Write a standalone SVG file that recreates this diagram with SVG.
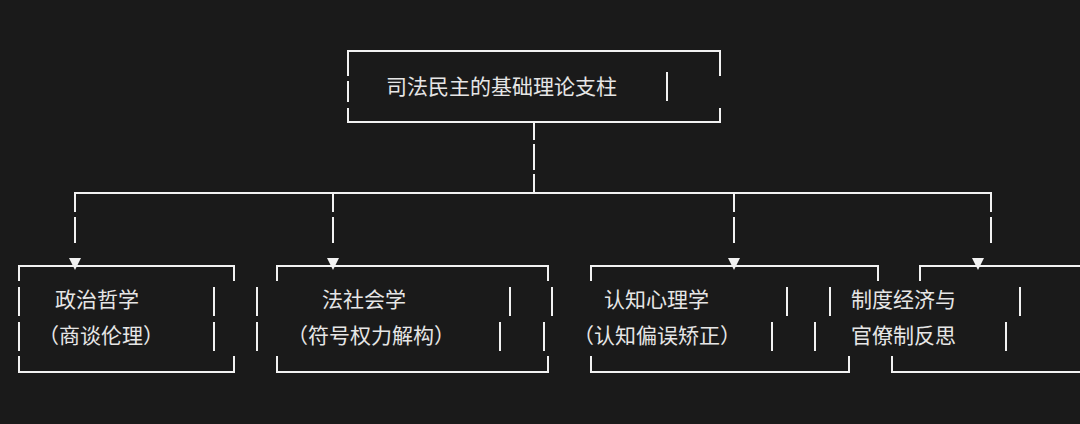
<svg xmlns="http://www.w3.org/2000/svg" width="1080" height="424" viewBox="0 0 1080 424">
<style>
.l{fill:none;stroke:#f2f2f2;stroke-width:2}
.t{font-family:"Noto Sans CJK SC","Noto Sans",sans-serif;font-size:21px;fill:#e6e6e6}
.a{fill:#f2f2f2}
</style>
<rect width="1080" height="424" fill="#1a1a1a"/>
<g id="root">
<path class="l" d="M348 76V51H720V76M348 81V102M348 108V122H720V108M667 72V101"/>
<text class="t" x="386" y="94">司法民主的基础理论支柱</text>
</g>
<g id="connectors">
<path class="l" d="M534 123V140M534 144V170M534 174V193M75 212V193H991V212M333 193V212M734 193V212M75 217V243M333 217V243M734 217V243M991 217V243"/>
</g>
<g id="n1">
<path class="l" d="M19 281V266H234V281M19 287V316M19 322V351M19 356V372H234V356M214 287V316M214 322V351"/>
<polygon class="a" points="69,258 81,258 75,270"/>
<text class="t" x="55" y="307">政治哲学</text>
<text class="t" x="38" y="343">（商谈伦理）</text>
</g>
<g id="n2">
<path class="l" d="M257 287V316M257 322V351M277 281V266H548V281M277 356V372H548V356M510 287V316M500 322V351M552 287V316M544 322V351"/>
<polygon class="a" points="327,258 339,258 333,270"/>
<text class="t" x="322" y="307">法社会学</text>
<text class="t" x="287" y="343">（符号权力解构）</text>
</g>
<g id="n3">
<path class="l" d="M591 281V266H878V281M591 356V372H849V356M787 287V316M772 322V351M830 287V316M815 322V351"/>
<polygon class="a" points="728,258 740,258 734,270"/>
<text class="t" x="604" y="307">认知心理学</text>
<text class="t" x="573" y="343">（认知偏误矫正）</text>
</g>
<g id="n4">
<path class="l" d="M920 281V266H1080M892 356V372H1080M1020 287V316M1006 322V351"/>
<polygon class="a" points="972,258 984,258 978,270"/>
<text class="t" x="851" y="307">制度经济与</text>
<text class="t" x="851" y="343">官僚制反思</text>
</g>
</svg>
